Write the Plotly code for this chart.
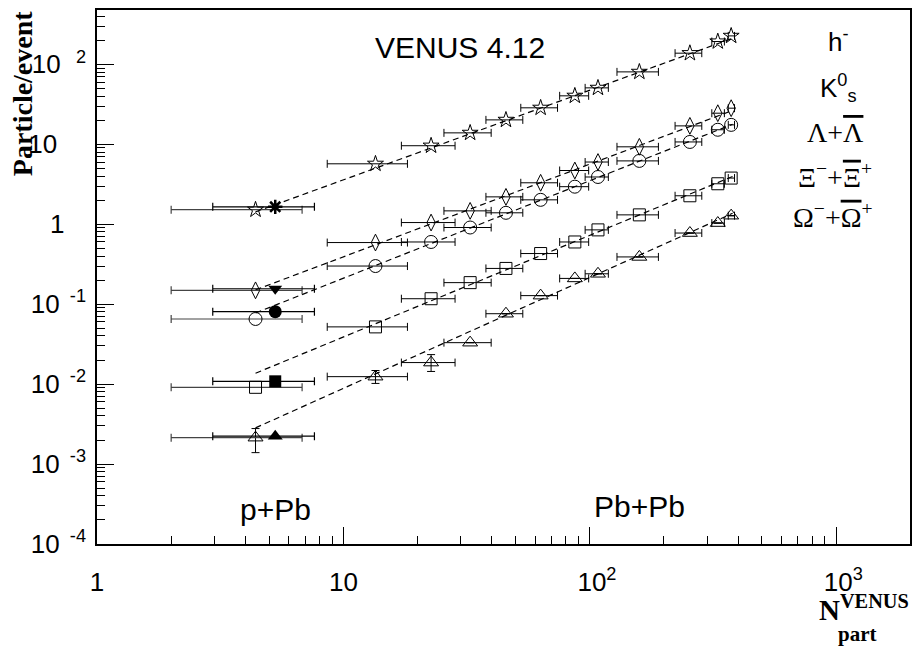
import plotly.graph_objects as go
import math

# ---------------- data ----------------
# Pb+Pb centrality bins (N_part) and horizontal bin extents
npart_pbpb = [13.5, 22.7, 32.7, 45.7, 63.2, 87, 108, 159, 255, 331, 375]
npart_pbpb_lo = [8.6, 17.2, 25.6, 37.9, 52.5, 75.5, 95.8, 129, 222, 313, 365]
npart_pbpb_hi = [18.2, 28.4, 39.8, 53.5, 74, 99, 119, 190, 285, 352, 387]

h_pbpb = [5.7, 9.6, 13.9, 20.2, 28.6, 40.4, 50.8, 80.5, 138, 193, 227]
k0_pbpb = [0.59, 1.05, 1.47, 2.2, 3.3, 4.7, 6.0, 9.3, 17.0, 24.5, 28.3]
lam_pbpb = [0.30, 0.60, 0.91, 1.39, 2.02, 2.95, 3.9, 6.2, 10.7, 15.2, 17.5]
xi_pbpb = [0.052, 0.117, 0.186, 0.28, 0.43, 0.60, 0.85, 1.31, 2.27, 3.21, 3.78]
om_pbpb = [0.0124, 0.0186, 0.033, 0.076, 0.128, 0.21, 0.24, 0.39, 0.776, 1.035, 1.28]
om_pbpb_err_up = [0.0024, 0.0048, 0, 0, 0, 0, 0, 0, 0, 0, 0]
om_pbpb_err_dn = [0.0022, 0.0042, 0, 0, 0, 0, 0, 0, 0, 0, 0]

# p+Pb points: open (VENUS) and filled
npart_ppb_open = [4.40]
npart_ppb_open_lo = [2.0]
npart_ppb_open_hi = [6.8]
npart_ppb_fill = [5.29]
npart_ppb_fill_lo = [2.95]
npart_ppb_fill_hi = [7.63]

h_ppb_open, h_ppb_fill = [1.52], [1.65]
k0_ppb_open, k0_ppb_fill = [0.149], [0.156]
lam_ppb_open, lam_ppb_fill = [0.0653], [0.0806]
xi_ppb_open, xi_ppb_fill = [0.00912], [0.01084]
om_ppb_open, om_ppb_fill = [0.00214], [0.00223]
om_ppb_open_err_up, om_ppb_open_err_dn = [0.00064], [0.00075]

# VENUS dashed curves
venus_x = [4.4, 380]
venus_h = [1.43, 212]
venus_k0 = [0.151, 26.5]
venus_lam = [0.0776, 17.8]
venus_xi = [0.01368, 3.96]
venus_om = [0.002835, 1.37]

NB = "\u00a0"
x_tickvals = [1, 10, 100, 1000]
x_ticktext = ["1", "10", NB * 2 + "10<sup>2</sup>", NB * 2 + "10<sup>3</sup>"]
y_tickvals = [1e-4, 1e-3, 1e-2, 1e-1, 1, 10, 100]
y_ticktext = ["10<sup>" + NB * 2 + "-4</sup>", "10<sup>" + NB * 2 + "-3</sup>",
              "10<sup>" + NB * 2 + "-2</sup>", "10<sup>" + NB * 2 + "-1</sup>",
              "1" + NB * 3, "10" + NB * 4, "10<sup>" + NB * 3 + "2</sup>"]

# ---------------- styling ----------------
SANS = "Liberation Sans, Arial, Helvetica, sans-serif"
SERIF = "Liberation Serif, Times New Roman, serif"
W, H = 914, 647
L, R, T, B = 97, 2, 10, 103


def px(xp, yp):
    return (xp - L) / (W - L - R), (H - B - yp) / (H - T - B)


def diff(a, b):
    return [ai - bi for ai, bi in zip(a, b)]


fig = go.Figure()

curves = [venus_h, venus_k0, venus_lam, venus_xi, venus_om]
for c in curves:
    fig.add_trace(go.Scatter(x=venus_x, y=c, mode="lines",
                             line=dict(color="black", width=1.2, dash="6px,4px"),
                             hoverinfo="skip", showlegend=False))

series = [
    (h_pbpb, h_ppb_open, h_ppb_fill, "star-open", "asterisk-open", 12, 12, None),
    (k0_pbpb, k0_ppb_open, k0_ppb_fill, "diamond-tall-open", "triangle-down", 12, 12, None),
    (lam_pbpb, lam_ppb_open, lam_ppb_fill, "circle-open", "circle", 13, 13, None),
    (xi_pbpb, xi_ppb_open, xi_ppb_fill, "square-open", "square", 12, 12, None),
    (om_pbpb, om_ppb_open, om_ppb_fill, "triangle-up-open", "triangle-up", 13, 13, "om"),
]

for yp, yo, yf, sym_o, sym_f, s_o, s_f, tag in series:
    ey = None
    eyo = None
    if tag == "om":
        ey = dict(type="data", symmetric=False, array=om_pbpb_err_up,
                  arrayminus=om_pbpb_err_dn, color="black", thickness=1, width=4)
        eyo = dict(type="data", symmetric=False, array=om_ppb_open_err_up,
                   arrayminus=om_ppb_open_err_dn, color="black", thickness=1, width=4)
    # Pb+Pb
    fig.add_trace(go.Scatter(
        x=npart_pbpb, y=yp, mode="markers",
        marker=dict(symbol=sym_o, size=s_o, color="black", line=dict(color="black", width=1)),
        error_x=dict(type="data", symmetric=False,
                     array=diff(npart_pbpb_hi, npart_pbpb),
                     arrayminus=diff(npart_pbpb, npart_pbpb_lo),
                     color="black", thickness=1, width=4),
        error_y=ey, showlegend=False))
    # p+Pb open
    fig.add_trace(go.Scatter(
        x=npart_ppb_open, y=yo, mode="markers",
        marker=dict(symbol=sym_o, size=s_o, color="black", line=dict(color="black", width=1)),
        error_x=dict(type="data", symmetric=False,
                     array=diff(npart_ppb_open_hi, npart_ppb_open),
                     arrayminus=diff(npart_ppb_open, npart_ppb_open_lo),
                     color="#444", thickness=1.2, width=4),
        error_y=eyo, showlegend=False))
    # p+Pb filled
    mline = dict(color="black", width=2.5 if sym_f == "asterisk-open" else 0)
    fig.add_trace(go.Scatter(
        x=npart_ppb_fill, y=yf, mode="markers",
        marker=dict(symbol=sym_f, size=s_f, color="black", line=mline),
        error_x=dict(type="data", symmetric=False,
                     array=diff(npart_ppb_fill_hi, npart_ppb_fill),
                     arrayminus=diff(npart_ppb_fill, npart_ppb_fill_lo),
                     color="black", thickness=1.2, width=4),
        showlegend=False))

x_minor = [m * 10 ** d for d in range(0, 4) for m in range(2, 10) if m * 10 ** d <= 1900]
y_minor = [m * 10.0 ** d for d in range(-4, 3) for m in range(2, 10) if m * 10.0 ** d <= 470]

axis_common = dict(type="log", showgrid=False, zeroline=False, showline=True,
                   linecolor="black", linewidth=1.5, mirror=True,
                   ticks="inside", ticklen=17, tickwidth=1, tickcolor="black",
                   tickmode="array",
                   tickfont=dict(family=SANS, size=26, color="black"))

fig.update_layout(
    width=W, height=H,
    margin=dict(l=L, r=R, t=T, b=B),
    paper_bgcolor="white", plot_bgcolor="white",
    xaxis=dict(axis_common, range=[0, math.log10(1995)],
               tickvals=x_tickvals, ticktext=x_ticktext, ticklabelstandoff=14,
               minor=dict(ticks="inside", ticklen=8, tickwidth=1, tickcolor="black",
                          tickmode="array", tickvals=x_minor, showgrid=False)),
    yaxis=dict(axis_common, range=[-4, 2.68],
               tickvals=y_tickvals, ticktext=y_ticktext, ticklabelstandoff=4,
               minor=dict(ticks="inside", ticklen=8, tickwidth=1, tickcolor="black",
                          tickmode="array", tickvals=y_minor, showgrid=False)),
)

ann = []


def add_text(text, xp, yp, size, family=SANS, **kw):
    xx, yy = px(xp, yp)
    d = dict(text=text, x=xx, y=yy, xref="paper", yref="paper",
             showarrow=False, font=dict(family=family, size=size, color="black"),
             xanchor="center", yanchor="middle")
    d.update(kw)
    ann.append(d)


OV = '<span style="text-decoration:overline">%s</span>'
add_text("VENUS 4.12", 461, 48, 30)
add_text("p+Pb", 276, 509, 30)
add_text("Pb+Pb", 641, 507, 30)
add_text("h<sup>-</sup>", 840, 40, 26)
add_text("K<sup>0</sup><sub>s</sub>", 840, 88, 26)
add_text("Λ+" + OV % "Λ", 837, 132, 28, SERIF)
add_text("Ξ<sup>−</sup>+" + OV % "Ξ" + "<sup>+</sup>", 837, 175, 28, SERIF)
add_text("Ω<sup>−</sup>+" + OV % "Ω" + "<sup>+</sup>", 835, 215, 28, SERIF)
add_text("<b>Particle/event</b>", 22, 94, 28, SERIF, textangle=-90)
add_text("<b>N<sup>VENUS</sup></b>", 866, 608, 29, SERIF)
add_text("<b>part</b>", 859, 634, 21, SERIF)

fig.update_layout(annotations=ann)

fig.write_html("out.html")
